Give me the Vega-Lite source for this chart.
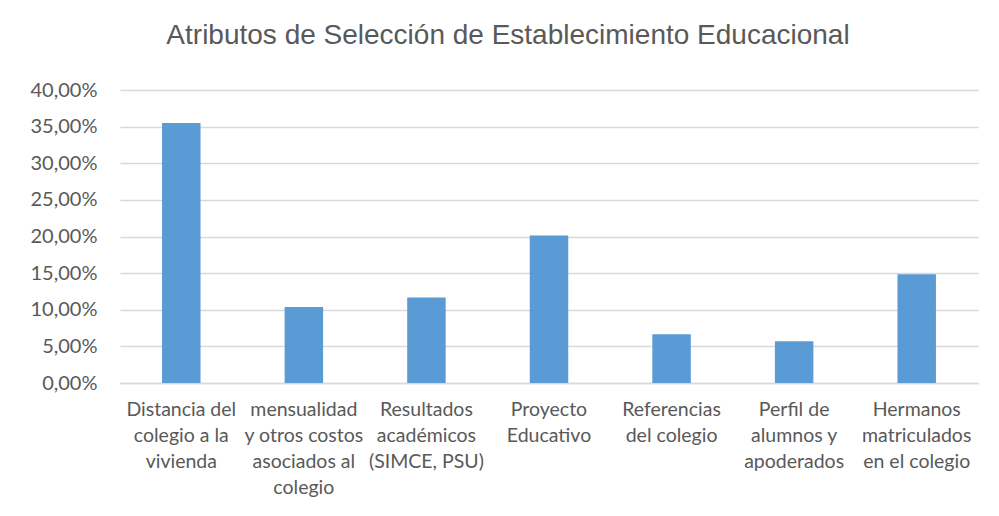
{
  "$schema": "https://vega.github.io/schema/vega-lite/v6.json",
  "autosize": {"type": "none"},
  "width": 858,
  "height": 293,
  "padding": {"left": 120, "top": 90, "right": 21, "bottom": 133},
  "background": "white",
  "config": {
    "locale": {"number": {"decimal": ",", "thousands": ".", "grouping": [3], "currency": ["$", ""]}},
    "view": {"stroke": null},
    "font": "Lato"
  },
  "title": {
    "text": "Atributos de Selección de Establecimiento Educacional",
    "font": "Liberation Sans",
    "fontSize": 28,
    "fontWeight": "normal",
    "color": "#595959",
    "anchor": "middle",
    "dx": -41,
    "offset": 30
  },
  "data": {
    "values": [
      {"atributo": "Distancia del colegio a la vivienda", "porcentaje": 0.355},
      {"atributo": "mensualidad y otros costos asociados al colegio", "porcentaje": 0.1038},
      {"atributo": "Resultados académicos (SIMCE, PSU)", "porcentaje": 0.1166},
      {"atributo": "Proyecto Educativo", "porcentaje": 0.2015},
      {"atributo": "Referencias del colegio", "porcentaje": 0.0665},
      {"atributo": "Perfil de alumnos y apoderados", "porcentaje": 0.057},
      {"atributo": "Hermanos matriculados en el colegio", "porcentaje": 0.1484}
    ]
  },
  "mark": {"type": "bar", "color": "#5b9bd5"},
  "encoding": {
    "x": {
      "field": "atributo",
      "type": "nominal",
      "sort": null,
      "scale": {"paddingInner": 0.686, "paddingOuter": 0.343},
      "axis": {
        "title": null,
        "labelAngle": 0,
        "labelFont": "Lato",
        "labelFontSize": 19.5,
        "labelColor": "#595959",
        "labelLineHeight": 26,
        "labelPadding": 17,
        "labelLimit": 200,
        "ticks": false,
        "domainColor": "#d9d9d9",
        "domainWidth": 1.5,
        "labelExpr": "datum.value == 'Distancia del colegio a la vivienda' ? ['Distancia del', 'colegio a la', 'vivienda'] : datum.value == 'mensualidad y otros costos asociados al colegio' ? ['mensualidad', 'y otros costos', 'asociados al', 'colegio'] : datum.value == 'Resultados académicos (SIMCE, PSU)' ? ['Resultados', 'académicos', '(SIMCE, PSU)'] : datum.value == 'Proyecto Educativo' ? ['Proyecto', 'Educativo'] : datum.value == 'Referencias del colegio' ? ['Referencias', 'del colegio'] : datum.value == 'Perfil de alumnos y apoderados' ? ['Perfil de', 'alumnos y', 'apoderados'] : ['Hermanos', 'matriculados', 'en el colegio']"
      }
    },
    "y": {
      "field": "porcentaje",
      "type": "quantitative",
      "scale": {"domain": [0, 0.4], "nice": false},
      "axis": {
        "title": null,
        "format": ".2%",
        "values": [0, 0.05, 0.1, 0.15, 0.2, 0.25, 0.3, 0.35, 0.4],
        "labelFont": "Lato",
        "labelFontSize": 20,
        "labelColor": "#595959",
        "labelPadding": 23,
        "ticks": false,
        "domain": false,
        "gridColor": "#d9d9d9",
        "gridWidth": 1.3
      }
    }
  }
}
